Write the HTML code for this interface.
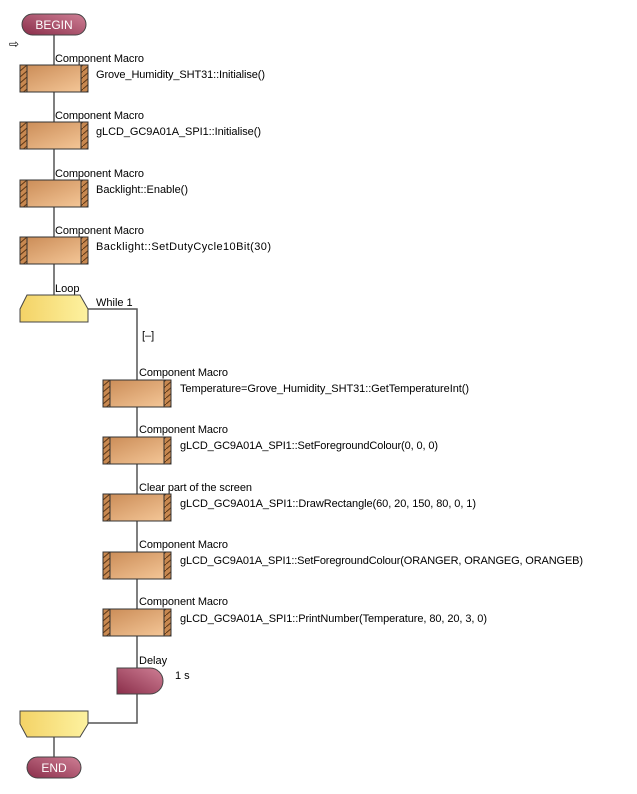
<!DOCTYPE html>
<html><head><meta charset="utf-8"><style>
html,body{margin:0;padding:0;background:#fff;}
svg{display:block;}
text{font-family:"Liberation Sans",sans-serif;font-size:11px;fill:#000;}
</style></head><body>
<svg width="637" height="794" viewBox="0 0 637 794" xmlns="http://www.w3.org/2000/svg">
<defs>
<linearGradient id="gb" x1="0" y1="0" x2="1" y2="1">
<stop offset="0" stop-color="#c98a55"/><stop offset="1" stop-color="#f6c99a"/></linearGradient>
<linearGradient id="gy" x1="0" y1="0" x2="1" y2="0">
<stop offset="0" stop-color="#f3d266"/><stop offset="1" stop-color="#fdf2a0"/></linearGradient>
<linearGradient id="gm" x1="0" y1="1" x2="1" y2="0">
<stop offset="0" stop-color="#8a2e4a"/><stop offset="1" stop-color="#cf7f95"/></linearGradient>
<pattern id="hatch" width="7" height="6" patternUnits="userSpaceOnUse">
<rect width="7" height="6" fill="#c88850"/>
<path d="M0 6 L7 0" stroke="#5a3515" stroke-width="1"/></pattern>
<g id="box">
<rect x="0" y="0" width="68" height="27" fill="url(#gb)" stroke="#333"/>
<rect x="0" y="0" width="7" height="27" fill="url(#hatch)" stroke="#333"/>
<rect x="61" y="0" width="7" height="27" fill="url(#hatch)" stroke="#333"/>
</g>
</defs>
<g stroke="#555" stroke-width="1.5" fill="none">
<path d="M54 35 V295"/>
<path d="M88 309 H137 V668"/>
<path d="M137 694 V723 H88"/>
<path d="M54 737 V757"/>
</g>
<rect x="22" y="14" width="64" height="21" rx="10.5" fill="url(#gm)" stroke="#444"/>
<text x="54" y="29" text-anchor="middle" style="fill:#fff;font-size:12px">BEGIN</text>
<text x="9" y="48" style="font-size:12px">⇨</text>

<use href="#box" x="20" y="65"/>
<use href="#box" x="20" y="122"/>
<use href="#box" x="20" y="180"/>
<use href="#box" x="20" y="237"/>
<text x="55" y="62" textLength="89">Component Macro</text>
<text x="96" y="78" textLength="169">Grove_Humidity_SHT31::Initialise()</text>
<text x="55" y="119" textLength="89">Component Macro</text>
<text x="96" y="135" textLength="165">gLCD_GC9A01A_SPI1::Initialise()</text>
<text x="55" y="177" textLength="89">Component Macro</text>
<text x="96" y="193" textLength="92">Backlight::Enable()</text>
<text x="55" y="234" textLength="89">Component Macro</text>
<text x="96" y="250" textLength="175">Backlight::SetDutyCycle10Bit(30)</text>

<path d="M27 295 H80 L88 309 V322 H20 V309 Z" fill="url(#gy)" stroke="#444"/>
<text x="55" y="292">Loop</text>
<text x="96" y="306">While 1</text>
<text x="142" y="339">[–]</text>

<use href="#box" x="103" y="380"/>
<use href="#box" x="103" y="437"/>
<use href="#box" x="103" y="494"/>
<use href="#box" x="103" y="552"/>
<use href="#box" x="103" y="609"/>
<text x="139" y="376" textLength="89">Component Macro</text>
<text x="180" y="392" textLength="289">Temperature=Grove_Humidity_SHT31::GetTemperatureInt()</text>
<text x="139" y="433" textLength="89">Component Macro</text>
<text x="180" y="449" textLength="258">gLCD_GC9A01A_SPI1::SetForegroundColour(0, 0, 0)</text>
<text x="139" y="491" textLength="113">Clear part of the screen</text>
<text x="180" y="507" textLength="296">gLCD_GC9A01A_SPI1::DrawRectangle(60, 20, 150, 80, 0, 1)</text>
<text x="139" y="548" textLength="89">Component Macro</text>
<text x="180" y="564" textLength="403">gLCD_GC9A01A_SPI1::SetForegroundColour(ORANGER, ORANGEG, ORANGEB)</text>
<text x="139" y="605" textLength="89">Component Macro</text>
<text x="180" y="622" textLength="307">gLCD_GC9A01A_SPI1::PrintNumber(Temperature, 80, 20, 3, 0)</text>

<path d="M117 668 H150 A13 13 0 0 1 150 694 H117 Z" fill="url(#gm)" stroke="#444"/>
<text x="139" y="664">Delay</text>
<text x="175" y="679">1 s</text>

<path d="M20 711 H88 V724 L80 737 H27 L20 724 Z" fill="url(#gy)" stroke="#444"/>
<rect x="27" y="757" width="54" height="21" rx="10.5" fill="url(#gm)" stroke="#444"/>
<text x="54" y="772" text-anchor="middle" style="fill:#fff;font-size:12px">END</text>
</svg>
</body></html>
